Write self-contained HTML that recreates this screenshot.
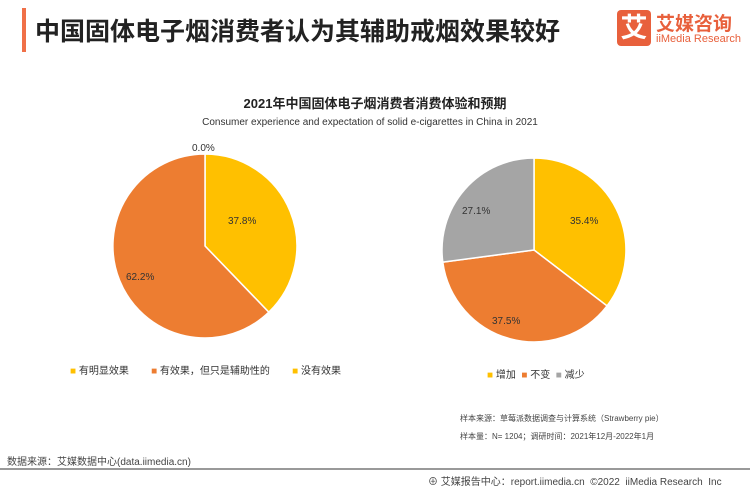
<!DOCTYPE html>
<html><head><meta charset="utf-8"><style>
body{margin:0;width:750px;height:488px;background:#fff;font-family:"Liberation Sans","Noto Sans CJK SC",sans-serif;position:relative;overflow:hidden}
.a{position:absolute;white-space:nowrap}
</style></head><body>
<div class="a" style="left:22px;top:8px;width:4px;height:44px;background:#f07048"></div>
<div class="a" style="left:35px;top:12px;font-size:25px;color:#222;font-weight:bold">中国固体电子烟消费者认为其辅助戒烟效果较好</div>
<div class="a" style="left:617px;top:10px;width:34px;height:36px;background:#e8603c;border-radius:4px;color:#fff;font-size:27px;font-weight:bold;text-align:center;line-height:36px">艾</div>
<div class="a" style="left:656px;top:9px;font-size:19px;color:#e8603c;font-weight:bold">艾媒咨询</div>
<div class="a" style="left:656px;top:33px;font-size:11px;color:#e8603c">iiMedia Research</div>
<div class="a" style="left:0;width:750px;top:93px;text-align:center;font-size:13px;font-weight:bold;color:#222">2021年中国固体电子烟消费者消费体验和预期</div>
<div class="a" style="left:0;width:740px;top:117px;text-align:center;font-size:10px;color:#333">Consumer experience and expectation of solid e-cigarettes in China in 2021</div>
<svg class="a" style="left:0;top:0" width="750" height="488">
<g stroke="#fff" stroke-width="1.5">
<path d="M205,246 L205,154 A92,92 0 0 1 268.8,312.2 Z" fill="#FFC000"/>
<path d="M205,246 L268.8,312.2 A92,92 0 1 1 205,154 Z" fill="#ED7D31"/>
<path d="M534,250 L534,158 A92,92 0 0 1 607,305.9 Z" fill="#FFC000"/>
<path d="M534,250 L607,305.9 A92,92 0 0 1 442.8,262.1 Z" fill="#ED7D31"/>
<path d="M534,250 L442.8,262.1 A92,92 0 0 1 534,158 Z" fill="#A5A5A5"/>
</g>
<g font-size="10" fill="#333" font-family="Liberation Sans,sans-serif">
<text x="192" y="151">0.0%</text>
<text x="228" y="224">37.8%</text>
<text x="126" y="280">62.2%</text>
<text x="570" y="224">35.4%</text>
<text x="492" y="324">37.5%</text>
<text x="462" y="214">27.1%</text>
</g>
<line x1="0" y1="469" x2="750" y2="469" stroke="#999" stroke-width="2"/>
</svg>
<div class="a" style="left:70px;top:362px;font-size:10px;color:#333"><span style="color:#FFC000">■</span> 有明显效果 &nbsp;&nbsp;&nbsp;&nbsp;&nbsp;&nbsp;&nbsp;<span style="color:#ED7D31">■</span> 有效果，但只是辅助性的 &nbsp;&nbsp;&nbsp;&nbsp;&nbsp;&nbsp;&nbsp;<span style="color:#FFC000">■</span> 没有效果</div>
<div class="a" style="left:487px;top:366px;font-size:10px;color:#333"><span style="color:#FFC000">■</span> 增加 &nbsp;<span style="color:#ED7D31">■</span> 不变 &nbsp;<span style="color:#A5A5A5">■</span> 减少</div>
<div class="a" style="left:460px;top:413px;font-size:8px;color:#444">样本来源：草莓派数据调查与计算系统（Strawberry pie）</div>
<div class="a" style="left:460px;top:431px;font-size:8px;color:#444">样本量：N= 1204；调研时间：2021年12月-2022年1月</div>
<div class="a" style="left:7px;top:453px;font-size:10px;color:#444">数据来源：艾媒数据中心(data.iimedia.cn)</div>
<div class="a" style="left:428px;top:473px;font-size:10px;color:#444">⊕ 艾媒报告中心：report.iimedia.cn &nbsp;©2022 &nbsp;iiMedia Research &nbsp;Inc</div>
</body></html>
